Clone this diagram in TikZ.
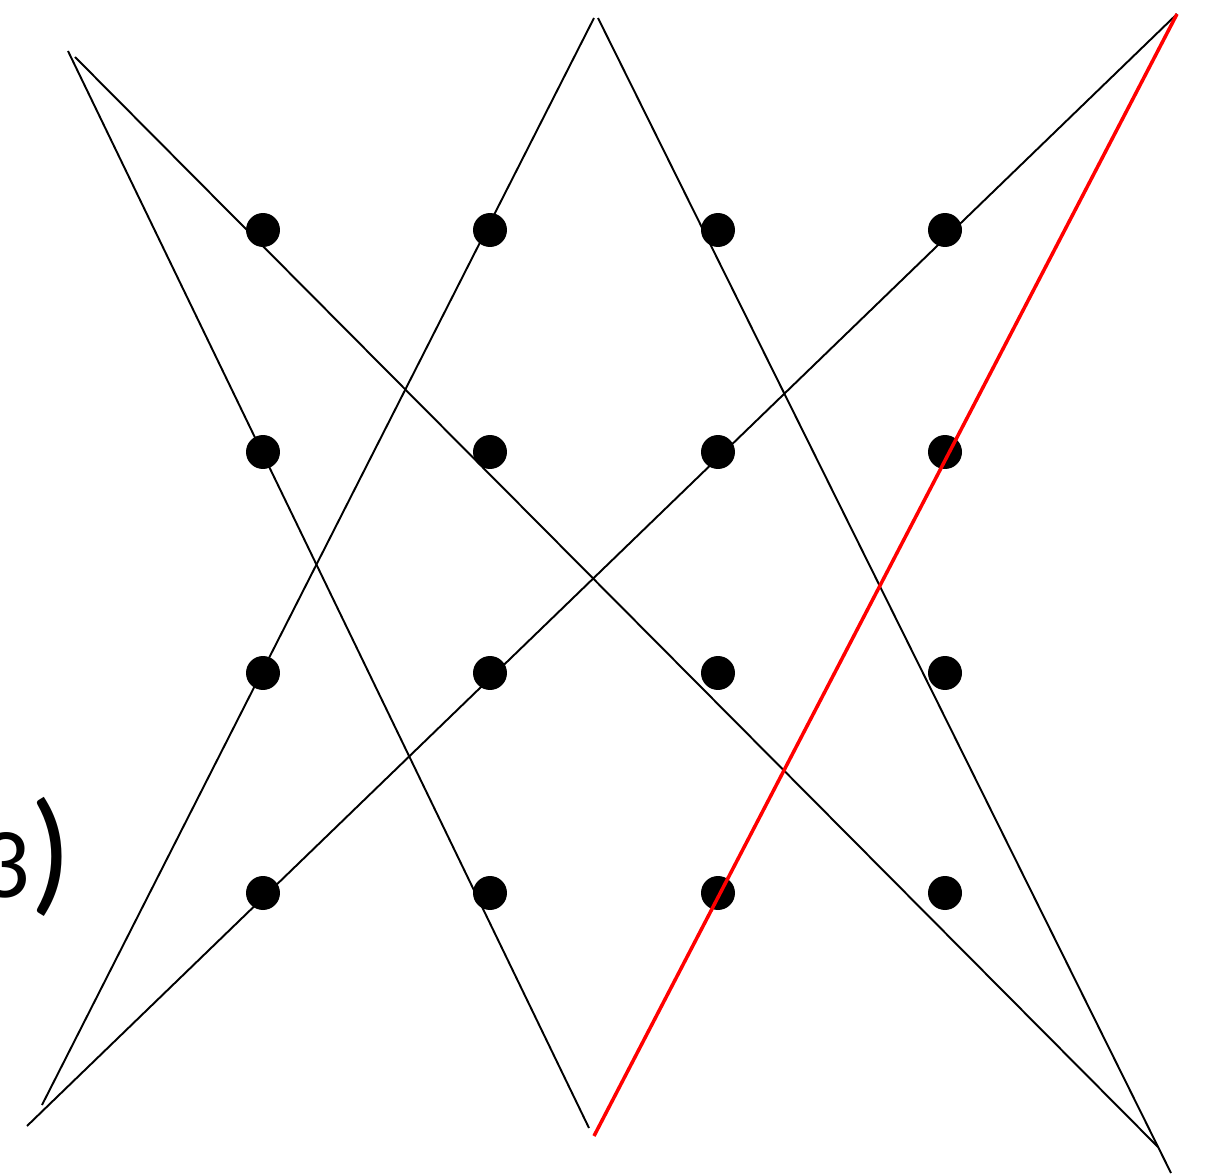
\documentclass[tikz,border=0pt]{standalone}
\usepackage{fontspec}
\setmainfont{Carlito}
\usetikzlibrary{positioning}

\tikzset{
  dot/.style={circle,fill=black,inner sep=0pt,minimum size=0.68cm},
  cross/.style={black,line width=1.1pt},
  redline/.style={red,line width=2pt}
}

\begin{document}
\begin{tikzpicture}[x=0.02cm,y=-0.02cm]
\useasboundingbox (0,0) rectangle (1215,1176);
\clip (0,0) rectangle (1215,1176);

% grid of points
\node[dot] (a1) at (263,230) {};
\node[dot] (a2) at (490,230) {};
\node[dot] (a3) at (718,230) {};
\node[dot] (a4) at (945,230) {};
\node[dot] (b1) at (263,452) {};
\node[dot] (b2) at (490,452) {};
\node[dot] (b3) at (718,452) {};
\node[dot] (b4) at (945,452) {};
\node[dot] (c1) at (263,673) {};
\node[dot] (c2) at (490,673) {};
\node[dot] (c3) at (718,673) {};
\node[dot] (c4) at (945,673) {};
\node[dot] (d1) at (263,893) {};
\node[dot] (d2) at (490,893) {};
\node[dot] (d3) at (718,893) {};
\node[dot] (d4) at (945,893) {};

% label, cut at the left edge
\node[anchor=base east,inner sep=0pt] (lbl) at (72,897)
  {\fontsize{57}{57}\selectfont 3\fontsize{78}{78}\selectfont )};

% line ends
\coordinate (tl1) at (68,51);
\coordinate (tl2) at (75,57);
\coordinate (top1) at (594,18);
\coordinate (top2) at (598,18);
\coordinate (tr) at (1177,14);
\coordinate (bl1) at (42,1105);
\coordinate (bl2) at (27,1126);
\coordinate (bm1) at (589,1128);
\coordinate (bm2) at (594,1136);
\coordinate (br1) at (1158,1147);
\coordinate (br2) at (1171,1173);

\draw[cross] (tl1) -- (bm1);
\draw[cross] (tl2) -- (br1);
\draw[cross] (top1) -- (bl1);
\draw[cross] (top2) -- (br2);
\draw[cross] (tr) -- (bl2);

% last stroke
\draw[redline] (tr) -- (bm2);
\end{tikzpicture}
\end{document}
